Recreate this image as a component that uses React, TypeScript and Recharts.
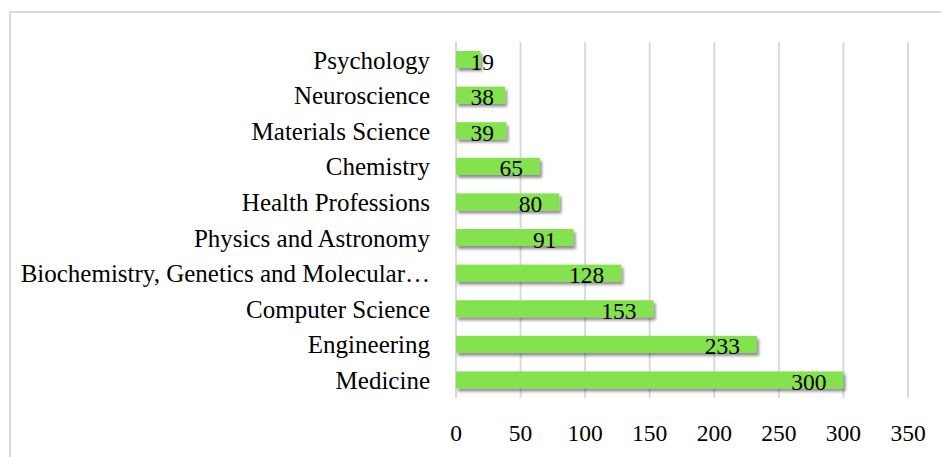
import { Bar, BarChart, CartesianGrid, LabelList, XAxis, YAxis } from 'recharts';

const categories = [
  'Psychology',
  'Neuroscience',
  'Materials Science',
  'Chemistry',
  'Health Professions',
  'Physics and Astronomy',
  'Biochemistry, Genetics and Molecular…',
  'Computer Science',
  'Engineering',
  'Medicine',
];
const counts = [19, 38, 39, 65, 80, 91, 128, 153, 233, 300];
const xTicks = [0, 50, 100, 150, 200, 250, 300, 350];

const data = categories.map((name, i) => ({ name, count: counts[i] }));

const FONT = '"Liberation Serif", "Times New Roman", serif';

function ShadowBar(props: any) {
  const { x, y, width, height, fill } = props;
  return <rect x={x} y={y} width={width} height={height} fill={fill} filter="url(#barShadow)" />;
}

function ValueLabel(props: any) {
  const { x, y, width, height, value } = props;
  const right = Math.max(x + width - 17, x + 38);
  return (
    <text
      x={right}
      y={y + height / 2 + 10}
      textAnchor="end"
      fontFamily={FONT}
      fontSize={23.5}
      fill="#000"
    >
      {value}
    </text>
  );
}

export default function App() {
  return (
    <div style={{ position: 'absolute', left: 0, top: 0, width: 941, height: 457, overflow: 'hidden', background: '#fff' }}>
      <div
        style={{
          position: 'absolute',
          left: 9,
          top: 11,
          width: 980,
          height: 500,
          borderTop: '2px solid #d9d9d9',
          borderLeft: '2px solid #d9d9d9',
        }}
      />
      <div style={{ position: 'absolute', left: 0, top: 0 }}>
        <BarChart
          width={941}
          height={457}
          data={data}
          layout="vertical"
          margin={{ top: 42, right: 33, bottom: 0, left: 0 }}
        >
          <defs>
            <filter id="barShadow" x="-10%" y="-30%" width="130%" height="180%">
              <feDropShadow dx="2" dy="3" stdDeviation="1.8" floodColor="#000" floodOpacity="0.45" />
            </filter>
          </defs>
          <CartesianGrid horizontal={false} stroke="#d9d9d9" strokeWidth={2} />
          <XAxis
            type="number"
            domain={[0, 350]}
            ticks={xTicks}
            axisLine={false}
            tickLine={false}
            tickSize={0}
            tickMargin={26}
            height={59}
            interval={0}
            tick={{ fontFamily: FONT, fontSize: 23.5, fill: '#000' }}
          />
          <YAxis
            type="category"
            dataKey="name"
            width={456}
            axisLine={false}
            tickLine={false}
            tickSize={0}
            tickMargin={26}
            interval={0}
            tick={{ fontFamily: FONT, fontSize: 25, fill: '#000' }}
          />
          <Bar dataKey="count" fill="#84e24f" barSize={17} shape={ShadowBar} isAnimationActive={false}>
            <LabelList dataKey="count" content={ValueLabel} />
          </Bar>
        </BarChart>
      </div>
    </div>
  );
}
